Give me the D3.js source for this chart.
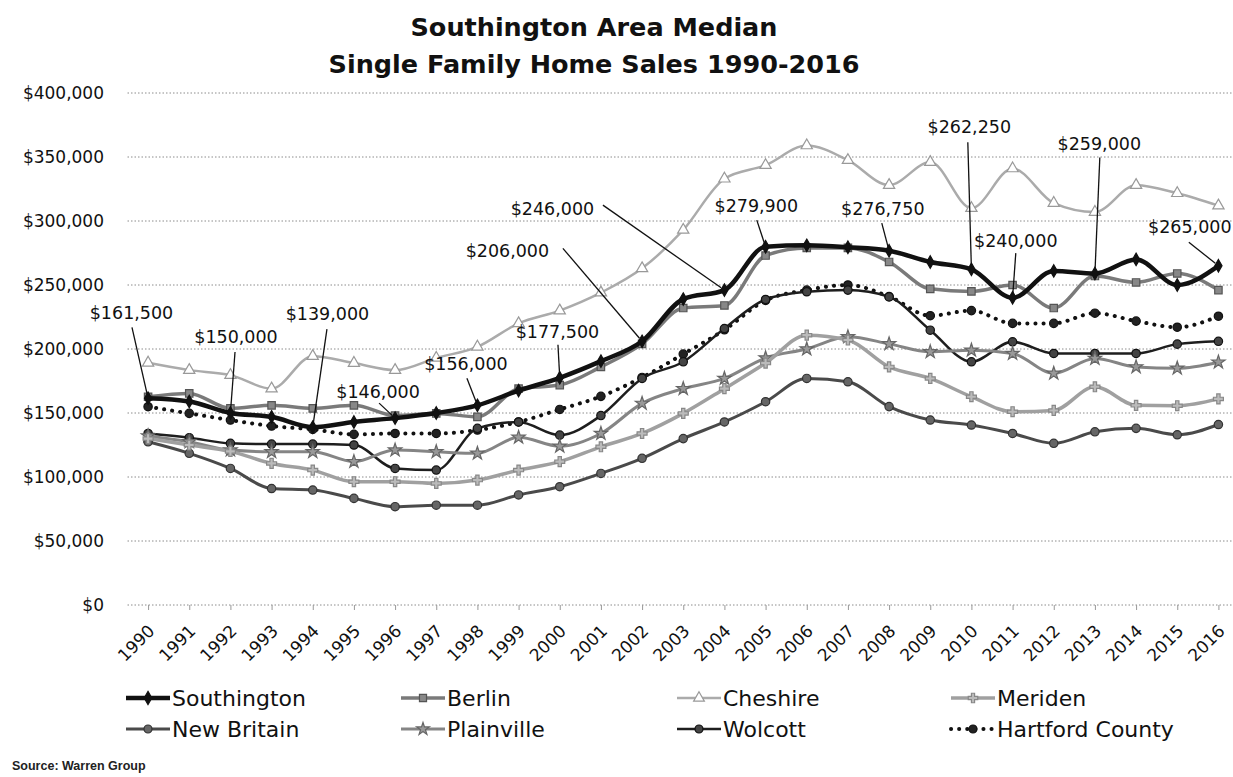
<!DOCTYPE html>
<html>
<head>
<meta charset="utf-8">
<script src="https://cdn.jsdelivr.net/npm/d3@7"></script>
<style>
  body { margin: 0; background: #fff; }
  svg { display: block; font-family: "DejaVu Sans", sans-serif; }
</style>
</head>
<body>
<script>
// DATA
var years = [1990, 1991, 1992, 1993, 1994, 1995, 1996, 1997, 1998, 1999, 2000, 2001, 2002, 2003,
             2004, 2005, 2006, 2007, 2008, 2009, 2010, 2011, 2012, 2013, 2014, 2015, 2016];

var southington = [161500, 159000, 150000, 147000, 139000, 143000, 146000, 150000, 156000, 167500, 177500, 190500, 206000, 239000,
                   246000, 279900, 281000, 279500, 276750, 268000, 262250, 240000, 261000, 259000, 270000, 250000, 265000];
var berlin = [162700, 165300, 153600, 156000, 153600, 156000, 148000, 149700, 147000, 169000, 171800, 186000, 204000, 232000,
              234000, 273000, 279000, 279000, 268000, 247000, 245000, 250000, 232000, 257000, 252000, 259000, 246000];
var cheshire = [189200, 183500, 179600, 169000, 194400, 189000, 183500, 193000, 201700, 220000, 230000, 244000, 263000, 293000,
                333000, 343600, 359000, 347500, 328000, 346000, 310000, 341000, 314000, 307000, 328000, 321700, 312000];
var meriden = [130000, 125000, 120000, 110600, 105400, 96300, 96300, 95000, 97600, 105400, 112000, 123600, 134000, 149700,
               169000, 189000, 210800, 207000, 186000, 177000, 162700, 151000, 152000, 170500, 156000, 155700, 161000];
var newBritain = [127500, 118500, 106700, 91000, 89800, 83300, 76800, 78000, 78000, 86000, 92400, 102800, 114600, 130000,
                  143000, 158800, 177000, 174400, 155000, 144500, 140600, 134000, 126300, 135300, 138000, 133000, 141000];
var plainville = [132000, 127500, 121000, 119700, 119700, 112000, 121000, 119700, 118500, 131000, 124000, 134000, 157500, 169000,
                  177000, 193000, 200000, 209500, 204000, 197800, 199000, 196500, 181000, 192600, 186000, 185000, 189700];
var wolcott = [134000, 130700, 126300, 125700, 125700, 125000, 106700, 105400, 138000, 143000, 132700, 148000, 177000, 190000,
               216000, 238700, 244700, 246000, 240700, 214700, 190000, 205600, 196500, 196500, 196500, 203800, 206000];
var hartford = [154900, 149700, 144500, 139800, 137200, 133300, 134000, 134000, 136700, 143000, 152800, 163000, 177800, 196000,
                215000, 238000, 246000, 250000, 241000, 226000, 230000, 220000, 220000, 228000, 221800, 217000, 225600];

var yTicks = [0, 50000, 100000, 150000, 200000, 250000, 300000, 350000, 400000];

// Southington values called out on the chart
var calloutYears = [1990, 1992, 1994, 1996, 1998, 2000, 2002, 2004, 2005, 2008, 2010, 2011, 2013, 2016];

// LAYOUT
var margin = { top: 93, right: -6, bottom: 172, left: 127.5 },
    width = 1233 - margin.left - margin.right,
    height = 777 - margin.top - margin.bottom;

// label placement for each callout: label centre/baseline relative to the point, leader start relative to label
var calloutPos = [
    { dx: -16.6, dy: -79, lx: 0.5, ly: 8 },
    { dx: 5.6, dy: -70, lx: -1, ly: 9 },
    { dx: 14.7, dy: -107, lx: -0.5, ly: 9 },
    { dx: -17, dy: -20, lx: 1, ly: 5 },
    { dx: -11.5, dy: -35, lx: 1, ly: 8 },
    { dx: -2.3, dy: -40, lx: 0.5, ly: 7 },
    { dx: -134.7, dy: -84, lx: 55.5, ly: -9 },
    { dx: -172, dy: -75, lx: 50.5, ly: -10 },
    { dx: -9.3, dy: -34.6, lx: 0.5, ly: 8 },
    { dx: -6.3, dy: -35.6, lx: -1, ly: 8 },
    { dx: -2.1, dy: -136, lx: -1.5, ly: 9 },
    { dx: 3.2, dy: -50.7, lx: 0, ly: 6 },
    { dx: 4.4, dy: -123, lx: 0.5, ly: 7 },
    { dx: -28.6, dy: -32.6, lx: -1, ly: 9 }
];

var series = [
    { name: "Southington", values: southington, color: "#111", width: 4.5, symbol: d3.symbolDiamond, fill: "#111", stroke: "#111" },
    { name: "Berlin", values: berlin, color: "#7a7a7a", width: 3.5, symbol: d3.symbolSquare, fill: "#888", stroke: "#555" },
    { name: "Cheshire", values: cheshire, color: "#ababab", width: 2.5, symbol: d3.symbolTriangle, fill: "#fff", stroke: "#999" },
    { name: "Meriden", values: meriden, color: "#a0a0a0", width: 3.5, symbol: d3.symbolCross, fill: "#bbb", stroke: "#888" },
    { name: "New Britain", values: newBritain, color: "#4a4a4a", width: 3, symbol: d3.symbolCircle, fill: "#666", stroke: "#333" },
    { name: "Plainville", values: plainville, color: "#858585", width: 3, symbol: d3.symbolStar, fill: "#999", stroke: "#666" },
    { name: "Wolcott", values: wolcott, color: "#1e1e1e", width: 2.5, symbol: d3.symbolCircle, fill: "#444", stroke: "#111" },
    { name: "Hartford County", values: hartford, color: "#111", width: 4, symbol: d3.symbolCircle, fill: "#222", stroke: "#111", dotted: true }
];

var svg = d3.select("body").append("svg")
    .attr("width", width + margin.left + margin.right)
    .attr("height", height + margin.top + margin.bottom)
    .style("background", "#fff");

var g = svg.append("g")
    .attr("transform", "translate(" + margin.left + "," + margin.top + ")");

var xScale = d3.scalePoint()
    .domain(years)
    .range([0, width])
    .padding(0.5);

var yScale = d3.scaleLinear()
    .domain([0, 400000])
    .range([height, 0]);

// gridlines
g.append("g")
    .selectAll("line")
    .data(yTicks)
    .enter()
    .append("line")
    .attr("x1", 0)
    .attr("x2", width)
    .attr("y1", d => yScale(d))
    .attr("y2", d => yScale(d))
    .attr("stroke", "#8c8c8c")
    .attr("stroke-width", 1)
    .attr("stroke-dasharray", "1.5,2");

// y axis
var yAxis = d3.axisLeft(yScale)
    .tickValues(yTicks)
    .tickSize(0)
    .tickPadding(23.5)
    .tickFormat(d => "$" + d3.format(",")(d));

g.append("g")
    .call(yAxis)
    .call(a => a.select(".domain").remove())
    .selectAll("text")
    .style("font-family", "DejaVu Sans, sans-serif")
    .style("font-size", "17px")
    .attr("fill", "#111");

// x axis
var xAxis = d3.axisBottom(xScale).tickSize(5).tickPadding(0);

var xg = g.append("g")
    .attr("transform", "translate(0," + height + ")")
    .call(xAxis);
xg.select(".domain").remove();
xg.selectAll(".tick line").attr("stroke", "#999");
xg.selectAll("text")
    .style("font-family", "DejaVu Sans, sans-serif")
    .style("font-size", "17px")
    .attr("fill", "#111")
    .attr("text-anchor", "end")
    .attr("dy", 0)
    .attr("y", 0)
    .attr("transform", "translate(7,27) rotate(-45)");

// lines
var line = d3.line()
    .x((d, i) => xScale(years[i]))
    .y(d => yScale(d))
    .curve(d3.curveMonotoneX);

// draw back to front so Southington sits on top
var drawOrder = series.slice().reverse();

drawOrder.forEach(function (s) {
    var path = g.append("path")
        .datum(s.values)
        .attr("fill", "none")
        .attr("stroke", s.color)
        .attr("stroke-width", s.width)
        .attr("d", line);
    if (s.dotted) {
        path.attr("stroke-dasharray", "0.1,8")
            .attr("stroke-linecap", "round");
    }

    g.append("g")
        .selectAll("path")
        .data(s.values)
        .enter()
        .append("path")
        .attr("d", d3.symbol().type(s.symbol).size(s.name == "Southington" ? 45 : 55))
        .attr("transform", (d, i) => "translate(" + xScale(years[i]) + "," + yScale(d) + ")")
        .attr("fill", s.fill)
        .attr("stroke", s.stroke)
        .attr("stroke-width", 1.2);
});

// callouts
var callouts = calloutYears.map(function (yr, i) {
    var v = southington[years.indexOf(yr)];
    return { year: yr, value: v, pos: calloutPos[i] };
});

var cg = g.append("g");
callouts.forEach(function (c) {
    var px = xScale(c.year), py = yScale(c.value);
    var tx = px + c.pos.dx, ty = py + c.pos.dy;
    var sx = tx + c.pos.lx, sy = ty + c.pos.ly;
    // leader stops a few px short of the marker
    var ang = Math.atan2(py - sy, px - sx);
    cg.append("line")
        .attr("x1", sx).attr("y1", sy)
        .attr("x2", px - 4 * Math.cos(ang)).attr("y2", py - 4 * Math.sin(ang))
        .attr("stroke", "#111")
        .attr("stroke-width", 1.3);
    cg.append("text")
        .attr("x", tx)
        .attr("y", ty)
        .attr("text-anchor", "middle")
        .style("font-size", "17.5px")
        .attr("fill", "#111")
        .text("$" + d3.format(",")(c.value));
});

// title
var title = svg.append("text")
    .attr("text-anchor", "middle")
    .style("font-weight", "bold")
    .style("font-size", "25.5px")
    .attr("fill", "#111");
title.append("tspan").attr("x", 594).attr("y", 36).text("Southington Area Median");
title.append("tspan").attr("x", 594).attr("y", 73).text("Single Family Home Sales 1990-2016");

// legend
var legendCols = [126, 401, 677, 951];
var legendRows = [698, 729];

var legend = svg.append("g");
series.forEach(function (s, i) {
    var lx = legendCols[i % 4], ly = legendRows[Math.floor(i / 4)];
    var item = legend.append("g").attr("transform", "translate(" + lx + "," + ly + ")");
    var l = item.append("line")
        .attr("x1", 0).attr("x2", 44)
        .attr("y1", 0).attr("y2", 0)
        .attr("stroke", s.color)
        .attr("stroke-width", s.width);
    if (s.dotted) l.attr("stroke-dasharray", "0.1,8").attr("stroke-linecap", "round");
    item.append("path")
        .attr("d", d3.symbol().type(s.symbol).size(50))
        .attr("transform", "translate(22,0)")
        .attr("fill", s.fill)
        .attr("stroke", s.stroke)
        .attr("stroke-width", 1.2);
    item.append("text")
        .attr("x", 46)
        .attr("y", 7.5)
        .style("font-size", "22px")
        .attr("fill", "#111")
        .text(s.name);
});

// source
svg.append("text")
    .attr("x", 12)
    .attr("y", 770)
    .style("font-family", "Liberation Sans Narrow, Liberation Sans, sans-serif")
    .style("font-weight", "bold")
    .style("font-size", "12.5px")
    .attr("fill", "#222")
    .text("Source: Warren Group");
</script>
</body>
</html>
